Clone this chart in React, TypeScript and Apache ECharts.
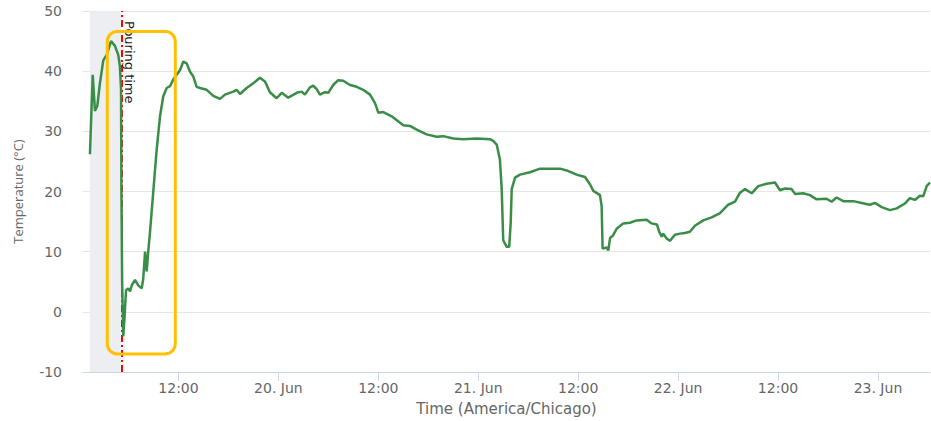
import React, { useEffect, useRef } from "react";
import * as echarts from "echarts";

// ---- data ----
const times: string[] = [
  "2023-06-19 01:22", "2023-06-19 01:42", "2023-06-19 01:58", "2023-06-19 02:15", "2023-06-19 02:34",
  "2023-06-19 02:58", "2023-06-19 03:23", "2023-06-19 03:54", "2023-06-19 04:22", "2023-06-19 04:46",
  "2023-06-19 04:58", "2023-06-19 05:06", "2023-06-19 05:09", "2023-06-19 05:14", "2023-06-19 05:22",
  "2023-06-19 05:31", "2023-06-19 05:42", "2023-06-19 05:58", "2023-06-19 06:11", "2023-06-19 06:25",
  "2023-06-19 06:47", "2023-06-19 07:10", "2023-06-19 07:35", "2023-06-19 07:46", "2023-06-19 07:59",
  "2023-06-19 08:11", "2023-06-19 08:22", "2023-06-19 08:35", "2023-06-19 08:58", "2023-06-19 09:23",
  "2023-06-19 09:47", "2023-06-19 10:10", "2023-06-19 10:35", "2023-06-19 10:59", "2023-06-19 11:22",
  "2023-06-19 11:47", "2023-06-19 12:11", "2023-06-19 12:35", "2023-06-19 12:59", "2023-06-19 13:23",
  "2023-06-19 13:47", "2023-06-19 14:11", "2023-06-19 14:35", "2023-06-19 15:23", "2023-06-19 16:11",
  "2023-06-19 16:59", "2023-06-19 17:35", "2023-06-19 18:35", "2023-06-19 18:59", "2023-06-19 19:23",
  "2023-06-19 20:11", "2023-06-19 20:59", "2023-06-19 21:47", "2023-06-19 22:23", "2023-06-19 22:59",
  "2023-06-19 23:47", "2023-06-20 00:24", "2023-06-20 01:11", "2023-06-20 02:12", "2023-06-20 02:48",
  "2023-06-20 03:11", "2023-06-20 03:47", "2023-06-20 04:11", "2023-06-20 04:36", "2023-06-20 04:59",
  "2023-06-20 05:35", "2023-06-20 05:59", "2023-06-20 06:35", "2023-06-20 07:11", "2023-06-20 07:47",
  "2023-06-20 08:36", "2023-06-20 09:24", "2023-06-20 10:11", "2023-06-20 11:00", "2023-06-20 11:36",
  "2023-06-20 12:00", "2023-06-20 12:36", "2023-06-20 13:36", "2023-06-20 15:00", "2023-06-20 15:48",
  "2023-06-20 16:36", "2023-06-20 17:48", "2023-06-20 19:00", "2023-06-20 19:48", "2023-06-20 21:00",
  "2023-06-20 22:12", "2023-06-20 23:48", "2023-06-21 01:24", "2023-06-21 01:48", "2023-06-21 02:13",
  "2023-06-21 02:36", "2023-06-21 02:49", "2023-06-21 02:56", "2023-06-21 03:00", "2023-06-21 03:25",
  "2023-06-21 03:43", "2023-06-21 03:54", "2023-06-21 04:01", "2023-06-21 04:25", "2023-06-21 05:01",
  "2023-06-21 06:13", "2023-06-21 07:25", "2023-06-21 08:37", "2023-06-21 09:49", "2023-06-21 10:37",
  "2023-06-21 11:49", "2023-06-21 12:49", "2023-06-21 13:25", "2023-06-21 13:49", "2023-06-21 14:37",
  "2023-06-21 14:49", "2023-06-21 14:56", "2023-06-21 15:25", "2023-06-21 15:37", "2023-06-21 15:50",
  "2023-06-21 16:08", "2023-06-21 16:37", "2023-06-21 17:25", "2023-06-21 18:13", "2023-06-21 19:01",
  "2023-06-21 20:13", "2023-06-21 20:49", "2023-06-21 21:28", "2023-06-21 21:44", "2023-06-21 22:02",
  "2023-06-21 22:13", "2023-06-21 22:37", "2023-06-21 23:01", "2023-06-21 23:37", "2023-06-22 00:13",
  "2023-06-22 00:49", "2023-06-22 01:25", "2023-06-22 02:01", "2023-06-22 03:01", "2023-06-22 04:02",
  "2023-06-22 05:02", "2023-06-22 06:01", "2023-06-22 06:50", "2023-06-22 07:26", "2023-06-22 08:02",
  "2023-06-22 08:50", "2023-06-22 09:38", "2023-06-22 10:38", "2023-06-22 11:38", "2023-06-22 12:14",
  "2023-06-22 12:50", "2023-06-22 13:38", "2023-06-22 14:02", "2023-06-22 15:02", "2023-06-22 15:50",
  "2023-06-22 16:38", "2023-06-22 17:50", "2023-06-22 18:26", "2023-06-22 19:02", "2023-06-22 19:50",
  "2023-06-22 21:02", "2023-06-22 22:02", "2023-06-22 23:02", "2023-06-22 23:38", "2023-06-23 00:27",
  "2023-06-23 01:26", "2023-06-23 02:15", "2023-06-23 03:14", "2023-06-23 03:50", "2023-06-23 04:26",
  "2023-06-23 05:02", "2023-06-23 05:26", "2023-06-23 05:51", "2023-06-23 06:15",
];

const temps: number[] = [
  26.2, 39.4, 33.4, 34.2, 38.0,
  41.8, 42.7, 45.0, 44.2, 42.7,
  40.8, 37.0, 20.0, 5.0, -4.1,
  -1.0, 3.6, 3.9, 3.4, 4.5,
  5.3, 4.4, 3.9, 5.5, 10.0,
  6.7, 10.0, 13.3, 19.9, 27.0,
  32.5, 35.8, 37.2, 37.5, 38.6,
  39.4, 40.2, 41.6, 41.3, 39.9,
  39.1, 37.4, 37.2, 36.9, 35.9,
  35.4, 36.1, 36.6, 36.9, 36.2,
  37.2, 38.0, 38.9, 38.3, 36.5,
  35.5, 36.4, 35.6, 36.4, 36.6,
  36.1, 37.3, 37.6, 37.0, 36.1,
  36.5, 36.4, 37.7, 38.5, 38.4,
  37.7, 37.4, 36.9, 36.1, 34.7,
  33.1, 33.2, 32.5, 31.0, 30.9,
  30.3, 29.5, 29.1, 29.2, 28.8,
  28.7, 28.8, 28.7, 28.4, 27.8,
  25.3, 20.4, 14.9, 11.9, 10.8,
  10.8, 14.9, 20.4, 22.3, 22.8,
  23.2, 23.8, 23.8, 23.8, 23.5,
  22.8, 22.4, 21.2, 20.1, 19.4,
  17.6, 10.5, 10.7, 10.2, 12.3,
  12.6, 13.8, 14.7, 14.8, 15.2,
  15.3, 14.7, 14.5, 13.3, 12.5,
  13.0, 12.2, 11.8, 12.8, 13.0,
  13.1, 13.3, 14.3, 15.2, 15.7,
  16.4, 17.8, 18.3, 19.8, 20.4,
  19.7, 20.9, 21.3, 21.5, 20.2,
  20.5, 20.4, 19.6, 19.7, 19.4,
  18.7, 18.8, 18.3, 19.0, 18.4,
  18.4, 18.1, 17.8, 18.1, 17.4,
  16.9, 17.2, 18.0, 18.9, 18.6,
  19.3, 19.2, 20.9, 21.5,
];

const Y_MIN = -10;
const Y_MAX = 50;
const Y_STEP = 10;
const X_MIN = "2023-06-19 00:32";
const X_MAX = "2023-06-23 06:15";
const MONTH_LABEL = "Jun";
const BAND_START = "2023-06-19 01:22";
const POURING_TIME = "2023-06-19 05:09";
const POURING_LABEL = "Pouring time";
const HIGHLIGHT_FROM = "2023-06-19 03:27";
const HIGHLIGHT_TO = "2023-06-19 11:37";
const HIGHLIGHT_TOP = 46.6;
const HIGHLIGHT_BOTTOM = -7.0;
const X_TITLE = "Time (America/Chicago)";
const Y_TITLE = "Temperature (°C)";

function toMs(s: string): number {
  return new Date(s.replace(" ", "T") + ":00").getTime();
}

function pad(n: number): string {
  return n < 10 ? "0" + n : String(n);
}

export default function App() {
  const ref = useRef<HTMLDivElement>(null);

  useEffect(() => {
    if (!ref.current) return;
    const chart = echarts.init(ref.current, undefined, { renderer: "svg" });
    const seriesData = times.map((t, i) => [toMs(t), temps[i]]);

    chart.setOption({
      animation: false,
      backgroundColor: "#ffffff",
      grid: { left: 83, right: 1, top: 11, bottom: 46, containLabel: false },
      xAxis: {
        type: "time",
        min: toMs(X_MIN),
        max: toMs(X_MAX),
        splitNumber: 8,
        name: X_TITLE,
        nameLocation: "middle",
        nameGap: 29,
        nameTextStyle: { color: "#666666", fontSize: 15, fontFamily: "DejaVu Sans" },
        axisLine: { show: true, onZero: false, lineStyle: { color: "#ccd6eb", width: 1 } },
        axisTick: { show: true, length: 9, lineStyle: { color: "#ccd6eb", width: 1 } },
        splitLine: { show: false },
        axisLabel: {
          color: "#666666",
          fontSize: 14,
          fontFamily: "DejaVu Sans",
          margin: 9,
          formatter: (value: number) => {
            const d = new Date(value);
            if (d.getHours() === 0 && d.getMinutes() === 0) {
              return d.getDate() + ". " + MONTH_LABEL;
            }
            return pad(d.getHours()) + ":" + pad(d.getMinutes());
          },
        },
      },
      yAxis: {
        type: "value",
        min: Y_MIN,
        max: Y_MAX,
        interval: Y_STEP,
        name: Y_TITLE,
        nameLocation: "middle",
        nameGap: 59,
        nameTextStyle: { color: "#666666", fontSize: 13, fontFamily: "Open Sans" },
        axisLine: { show: false },
        axisTick: { show: false },
        splitLine: { show: true, lineStyle: { color: "#e6e6e6", width: 1 } },
        axisLabel: { color: "#666666", fontSize: 14, fontFamily: "DejaVu Sans", margin: 21 },
      },
      series: [
        {
          type: "line",
          name: "annotations",
          data: [],
          z: 1,
          markArea: {
            silent: true,
            itemStyle: { color: "#eceef1" },
            data: [[{ xAxis: toMs(BAND_START) }, { xAxis: toMs(POURING_TIME) }]],
          },
          markLine: {
            silent: true,
            symbol: ["none", "none"],
            label: { show: false },
            lineStyle: { color: "#ff0000", width: 2, type: [7, 3, 2, 3] },
            data: [{ xAxis: toMs(POURING_TIME) }],
          },
        },
        {
          type: "line",
          name: "Temperature",
          data: seriesData,
          showSymbol: false,
          symbol: "none",
          color: "#3a8d47",
          lineStyle: { color: "#3a8d47", width: 2.5 },
          z: 5,
        },
      ],
    });

    const pour = chart.convertToPixel({ gridIndex: 0 }, [toMs(POURING_TIME), Y_MAX]) as number[];
    const boxA = chart.convertToPixel({ gridIndex: 0 }, [toMs(HIGHLIGHT_FROM), HIGHLIGHT_TOP]) as number[];
    const boxB = chart.convertToPixel({ gridIndex: 0 }, [toMs(HIGHLIGHT_TO), HIGHLIGHT_BOTTOM]) as number[];

    chart.setOption({
      graphic: [
        {
          type: "text",
          x: pour[0] + 2,
          y: pour[1] + 10,
          rotation: -Math.PI / 2,
          z: 10,
          style: {
            text: POURING_LABEL,
            fill: "#1a1a1a",
            fontSize: 13,
            fontFamily: "DejaVu Sans",
            align: "left",
            verticalAlign: "bottom",
          },
        },
        {
          type: "rect",
          z: 10,
          shape: {
            x: boxA[0],
            y: boxA[1],
            width: boxB[0] - boxA[0],
            height: boxB[1] - boxA[1],
            r: 10,
          },
          style: { fill: "none", stroke: "#ffc000", lineWidth: 3 },
        },
      ],
    });

    return () => chart.dispose();
  }, []);

  return (
    <div
      ref={ref}
      style={{ position: "fixed", left: 0, top: 0, width: 931, height: 421, background: "#fff" }}
    />
  );
}
